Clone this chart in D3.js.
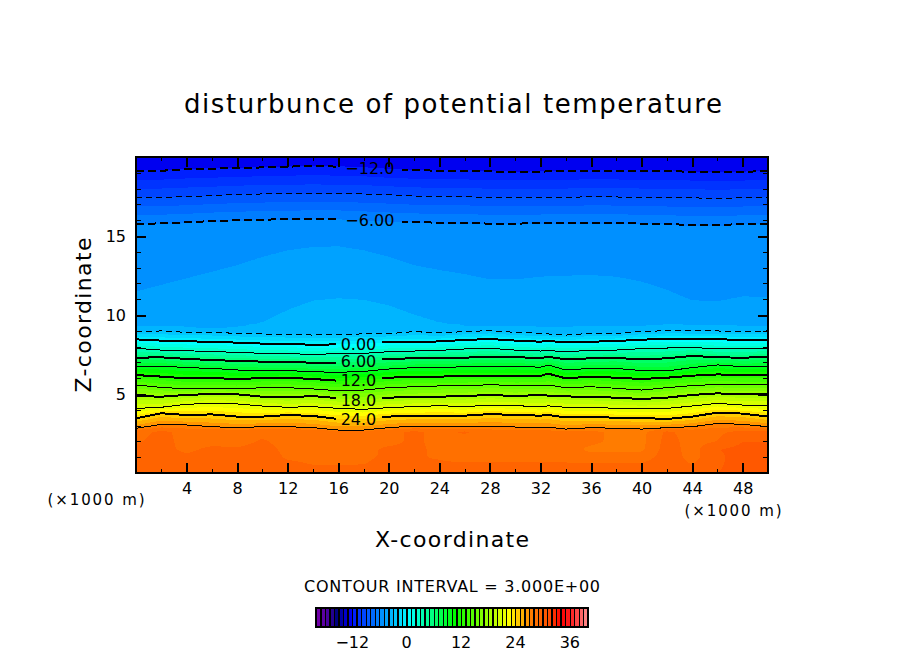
<!DOCTYPE html>
<html>
<head>
<meta charset="utf-8">
<script src="https://cdn.jsdelivr.net/npm/d3@7"></script>
<style>
  html, body { margin: 0; background: #fff; }
  svg { display: block; }
  text { font-family: "DejaVu Sans", sans-serif; fill: #000; }
</style>
</head>
<body>
<svg id="chart" width="904" height="654"></svg>
<script>
const xStations = [0,2,4,6,8,10,12,14,16,18,20,22,24,26,28,30,32,32.6,34,36,38,40,42,44,46,48,50];

// contour heights (km) at xStations
const contourM12 = [19.11,19.13,19.22,19.26,19.30,19.34,19.39,19.43,19.39,19.34,19.22,19.17,19.13,19.13,19.09,19.05,19.07,19.09,19.13,19.13,19.13,19.13,19.13,19.05,19.05,19.05,19.13];
const contourM9 = [17.44,17.44,17.49,17.55,17.63,17.66,17.68,17.68,17.68,17.66,17.61,17.53,17.51,17.49,17.44,17.44,17.44,17.44,17.44,17.49,17.47,17.44,17.42,17.42,17.36,17.42,17.44];
const contourM6 = [15.76,15.80,15.86,15.95,15.99,16.03,16.07,16.09,16.09,16.01,15.93,15.88,15.84,15.84,15.78,15.78,15.82,15.83,15.84,15.84,15.84,15.78,15.76,15.69,15.69,15.76,15.78];
const contourM5 = [11.47,11.90,12.32,12.74,13.16,13.69,14.11,14.32,14.36,14.11,13.69,13.16,12.85,12.59,12.25,12.25,12.42,12.45,12.49,12.53,12.42,12.11,11.58,10.90,10.84,11.16,11.09];
const contourM4 = [9.25,9.25,9.20,9.15,9.20,9.50,10.30,10.90,11.05,10.95,10.60,10.00,9.50,9.30,9.30,9.25,9.20,9.20,9.20,9.25,9.25,9.30,9.35,9.35,9.35,9.30,9.30];
const contourM3 = [8.95,8.99,8.90,8.90,8.84,8.80,8.78,8.73,8.78,8.80,8.82,8.95,8.86,8.95,9.01,8.90,8.84,8.80,8.73,8.84,8.84,8.95,9.01,8.99,8.99,8.95,8.99];
const contour0 = [8.46,8.38,8.33,8.31,8.25,8.19,8.16,8.12,8.14,8.19,8.29,8.27,8.33,8.42,8.48,8.38,8.31,8.36,8.27,8.31,8.35,8.44,8.48,8.50,8.48,8.40,8.40];
const contour3 = [7.89,7.78,7.74,7.68,7.64,7.57,7.55,7.51,7.55,7.57,7.68,7.72,7.76,7.85,7.89,7.78,7.72,7.75,7.68,7.76,7.78,7.87,7.91,7.95,7.85,7.85,7.89];
const contour6 = [7.30,7.32,7.22,7.15,7.09,7.05,7.03,6.98,6.98,7.09,7.22,7.26,7.30,7.30,7.36,7.34,7.26,7.36,7.19,7.26,7.28,7.19,7.26,7.41,7.32,7.30,7.34];
const contour9 = [6.77,6.77,6.67,6.62,6.52,6.48,6.48,6.41,6.37,6.43,6.58,6.67,6.67,6.73,6.75,6.77,6.69,6.84,6.52,6.62,6.62,6.48,6.46,6.67,6.84,6.73,6.75];
const contour12 = [6.20,6.10,5.99,5.99,5.97,5.99,6.03,5.95,5.84,5.89,6.03,6.10,6.10,6.14,6.14,6.12,6.14,6.29,5.99,6.10,6.03,5.95,6.03,6.16,6.24,6.20,6.22];
const contour15 = [5.57,5.42,5.32,5.36,5.32,5.40,5.40,5.32,5.21,5.25,5.40,5.46,5.51,5.51,5.59,5.53,5.53,5.57,5.40,5.46,5.36,5.25,5.40,5.53,5.61,5.57,5.57];
const contour18 = [4.87,4.83,4.94,5.00,4.98,4.83,4.79,4.87,4.73,4.62,4.77,4.81,4.83,4.87,4.94,4.87,4.94,4.90,4.85,4.81,4.77,4.68,4.77,4.94,5.04,4.98,4.98];
const contour21 = [4.09,4.16,4.35,4.41,4.37,4.24,4.16,4.20,4.09,4.03,4.14,4.20,4.26,4.20,4.30,4.26,4.20,4.25,4.16,4.16,4.09,4.05,4.09,4.24,4.41,4.30,4.30];
const contour24 = [3.46,3.78,3.67,3.71,3.57,3.57,3.67,3.61,3.42,3.42,3.57,3.63,3.63,3.63,3.73,3.67,3.63,3.67,3.52,3.54,3.50,3.48,3.42,3.57,3.82,3.76,3.57];
const contour27 = [2.83,3.08,3.04,2.93,2.87,2.93,2.93,2.87,2.72,2.72,2.87,2.97,2.97,2.93,2.97,2.91,2.89,2.90,2.78,2.87,2.83,2.78,2.87,2.93,3.14,3.08,2.93];

// temperature below the lowest contour, one row per height in bottomZ
const bottomX = [0,2,4,6,8,10,12,14,16,18,20,22,24,26,28,30,32,34,36,38,40,42,44,46,48,50];
const bottomZ = [0, 0.5, 1, 1.5, 2, 2.65];
const bottom00 = [29.5,29.5,29.5,29.5,29.5,29.5,29.5,29.5,29.5,29.5,29.5,29.5,29.5,29.5,29.5,29.5,29.5,29.5,29.5,29.5,29.5,30.0,29.5,30.0,30.5,30.5];
const bottom05 = [29.3,29.3,29.3,29.3,29.3,29.3,29.2,29.0,29.0,29.0,29.2,29.3,29.2,29.2,29.2,29.2,29.2,29.2,29.2,29.2,29.2,29.6,29.0,29.8,30.6,30.6];
const bottom10 = [29.3,29.3,29.2,29.4,29.3,29.4,28.9,28.8,28.7,28.9,29.1,29.1,28.9,28.6,28.6,28.6,28.6,28.6,28.3,28.5,28.5,29.5,28.7,29.6,30.9,30.7];
const bottom15 = [29.2,29.3,28.8,29.2,29.1,29.3,28.8,28.7,28.6,28.7,29.2,29.2,28.8,28.5,28.5,28.4,28.4,28.4,27.8,27.7,27.8,29.5,28.6,30.0,30.3,30.4];
const bottom20 = [28.9,29.3,28.7,28.7,28.7,29.1,28.7,28.7,28.7,28.7,28.7,29.2,28.7,28.5,28.5,28.3,28.3,28.3,28.2,27.8,27.7,29.4,28.6,29.0,30.0,30.0];
const bottom25 = [28.6,29.2,28.7,28.7,28.7,28.7,28.7,28.7,28.7,28.7,28.7,29.2,28.7,29.2,28.5,28.3,28.3,28.3,28.2,27.8,27.7,29.2,28.5,28.8,29.2,29.2];

const contourLevels = [27,24,21,18,15,12,9,6,3,0,-3,-4,-5,-6,-9,-12];
const contourHeights = [contour27,contour24,contour21,contour18,contour15,contour12,contour9,contour6,contour3,contour0,contourM3,contourM4,contourM5,contourM6,contourM9,contourM12];
const bottomRows = [bottom00,bottom05,bottom10,bottom15,bottom20,bottom25];
const topValue = -12.5;

// levels that get a drawn line and the ones that carry a label
const boldLevels = [-12,-6,0,6,12,18,24];
const thinLevels = [-9,-3,3,9,15,21,27];
const upperLabels = [-12,-6];
const lowerLabels = [0,6,12,18,24];

const xMajor = [4,8,12,16,20,24,28,32,36,40,44,48];
const xMinor = [2,6,10,14,18,22,26,30,34,38,42,46];
const zMajor = [5,10,15];
const zMinor = [1,2,3,4,6,7,8,9,11,12,13,14,16,17,18,19];
const legendTicks = [-12,0,12,24,36];

const colorStops = [-20,-18,-16,-13,-12,0,10,22,27,31,33.5,36,40];
const colorValues = ["#7000a8","#4800a0","#000080","#0000f0","#0020ff","#00ffff","#00ff00","#ffff00","#ff7c00","#ff4c00","#ff0000","#ff2828","#ffa0a0"];

const width = 904, height = 654;
const plot = {left: 136, right: 768, top: 157, bottom: 473};

const svg = d3.select("#chart");
const x = d3.scaleLinear().domain([0, 50]).range([plot.left, plot.right]);
const z = d3.scaleLinear().domain([0, 20]).range([plot.bottom, plot.top]);
const bandColor = d3.scaleLinear().domain(colorStops).range(colorValues).interpolate(d3.interpolateRgb);
const fmt = v => String(v).replace("-", "\u2212");

// one curve per contour, as km height against km x
function heightAt(values) {
    return d3.scaleLinear().domain(xStations).range(values);
}

// build the field column by column from the read-off heights
const nx = 316, ny = 158;
const field = new Float64Array(nx * ny);
const curveScales = contourHeights.map(heightAt);
const rowScales = bottomRows.map(r => d3.scaleLinear().domain(bottomX).range(r));
for (let i = 0; i < nx; i++) {
    const km = (i + 0.5) / nx * 50;
    const heights = bottomZ.concat(curveScales.map(s => s(km)), [20]);
    const temps = rowScales.map(s => s(km)).concat(contourLevels, [topValue]);
    const profile = d3.scaleLinear().domain(heights).range(temps);
    for (let j = 0; j < ny; j++) {
        const h = 20 - (j + 0.5) / ny * 20;
        field[j * nx + i] = profile(h);
    }
}

const fillLevels = d3.range(-13, 32);
const bands = d3.contours().size([nx, ny]).thresholds(fillLevels)(field);
const toPlot = d3.geoTransform({
    point(px, py) {
        this.stream.point(x(px / nx * 50), z(20 - py / ny * 20));
    }
});
const bandPath = d3.geoPath(toPlot);

svg.append("g")
    .selectAll("path")
    .data(bands)
    .join("path")
    .attr("d", bandPath)
    .attr("fill", d => bandColor(d.value))
    .attr("shape-rendering", "crispEdges");

// label gaps in the bold lines
const defs = svg.append("defs");
function gapClip(id, gapLeft, gapRight) {
    const c = defs.append("clipPath").attr("id", id);
    c.append("rect").attr("x", 0).attr("y", 0).attr("width", gapLeft).attr("height", height);
    c.append("rect").attr("x", gapRight).attr("y", 0).attr("width", width - gapRight).attr("height", height);
}
gapClip("gapUpper", 340, 402);
gapClip("gapLower", 336, 382);

const line = d3.line().x((d, i) => x(xStations[i])).y(d => z(d));
const heightOf = lvl => contourHeights[contourLevels.indexOf(lvl)];

const lines = svg.append("g").attr("fill", "none").attr("stroke", "#000").attr("shape-rendering", "crispEdges");
thinLevels.forEach(lvl => {
    lines.append("path")
        .attr("d", line(heightOf(lvl)))
        .attr("stroke-width", 1)
        .attr("stroke-dasharray", lvl < 0 ? "6,4" : null);
});
boldLevels.forEach(lvl => {
    lines.append("path")
        .attr("d", line(heightOf(lvl)))
        .attr("stroke-width", 2)
        .attr("stroke-dasharray", lvl < 0 ? "8,4" : null)
        .attr("clip-path", upperLabels.includes(lvl) ? "url(#gapUpper)" : "url(#gapLower)");
});

function contourLabel(lvl, km, text) {
    svg.append("text")
        .attr("x", x(km))
        .attr("y", z(heightAt(heightOf(lvl))(km)))
        .attr("dy", "0.38em")
        .attr("text-anchor", "middle")
        .attr("font-size", 16)
        .text(text);
}
upperLabels.forEach(l => contourLabel(l, 18.5, l === -12 ? "\u221212.0" : "\u22126.00"));
lowerLabels.forEach(l => contourLabel(l, 17.6, l < 12 ? l + ".00" : l + ".0"));

// ticks point inwards on all four sides
function addAxis(axis, vals, size, tx, ty, labels) {
    const g = svg.append("g")
        .attr("transform", `translate(${tx},${ty})`)
        .call(axis.tickValues(vals).tickSize(-size).tickPadding(10).tickFormat(labels ? d3.format("d") : ""));
    g.select(".domain").remove();
    g.selectAll("line").attr("stroke-width", size > 6 ? 2 : 1).attr("shape-rendering", "crispEdges");
    g.selectAll("text").attr("font-size", 16).attr("font-family", "DejaVu Sans");
}
addAxis(d3.axisBottom(x), xMinor, 4, 0, plot.bottom, false);
addAxis(d3.axisTop(x), xMinor, 4, 0, plot.top, false);
addAxis(d3.axisBottom(x), xMajor, 10, 0, plot.bottom, true);
addAxis(d3.axisTop(x), xMajor, 10, 0, plot.top, false);
addAxis(d3.axisLeft(z), zMinor, 5, plot.left, 0, false);
addAxis(d3.axisRight(z), zMinor, 5, plot.right, 0, false);
addAxis(d3.axisLeft(z), zMajor, 10, plot.left, 0, true);
addAxis(d3.axisRight(z), zMajor, 10, plot.right, 0, false);

svg.append("rect")
    .attr("x", plot.left).attr("y", plot.top)
    .attr("width", plot.right - plot.left).attr("height", plot.bottom - plot.top)
    .attr("fill", "none").attr("stroke", "#000").attr("stroke-width", 2)
    .attr("shape-rendering", "crispEdges");

function label(tx, ty, text, size, fitWidth) {
    const t = svg.append("text")
        .attr("x", tx).attr("y", ty)
        .attr("text-anchor", "middle")
        .attr("font-size", size)
        .text(text);
    if (fitWidth) t.attr("textLength", fitWidth).attr("lengthAdjust", "spacing");
    return t;
}
label(453, 113, "disturbunce of potential temperature", 26, 538);
label(452, 547, "X-coordinate", 22, 154);
label(0, 0, "Z-coordinate", 22, 155).attr("transform", "translate(91,315) rotate(-90)");
label(96, 505, "(\u00d71000 m)", 15, 97);
label(733, 516, "(\u00d71000 m)", 15, 97);
label(452, 592, "CONTOUR INTERVAL = 3.000E+00", 16, 296);

// colour key, one stripe per unit
const key = {left: 316, right: 588, top: 608, bottom: 627};
const keyLevels = d3.range(-20, 40);
const keyX = d3.scaleLinear().domain([-20, 40]).range([key.left, key.right]);
svg.append("rect")
    .attr("x", key.left).attr("y", key.top)
    .attr("width", key.right - key.left).attr("height", key.bottom - key.top)
    .attr("fill", "#000");
svg.append("g")
    .selectAll("rect")
    .data(keyLevels)
    .join("rect")
    .attr("x", d => keyX(d) + 1)
    .attr("y", key.top + 1)
    .attr("width", 3.2)
    .attr("height", key.bottom - key.top - 2)
    .attr("fill", d => bandColor(d))
    .attr("shape-rendering", "crispEdges");
svg.append("rect")
    .attr("x", key.left).attr("y", key.top)
    .attr("width", key.right - key.left).attr("height", key.bottom - key.top)
    .attr("fill", "none").attr("stroke", "#000").attr("stroke-width", 2)
    .attr("shape-rendering", "crispEdges");
legendTicks.forEach(v => label(keyX(v), 648, fmt(v), 16));
</script>
</body>
</html>
